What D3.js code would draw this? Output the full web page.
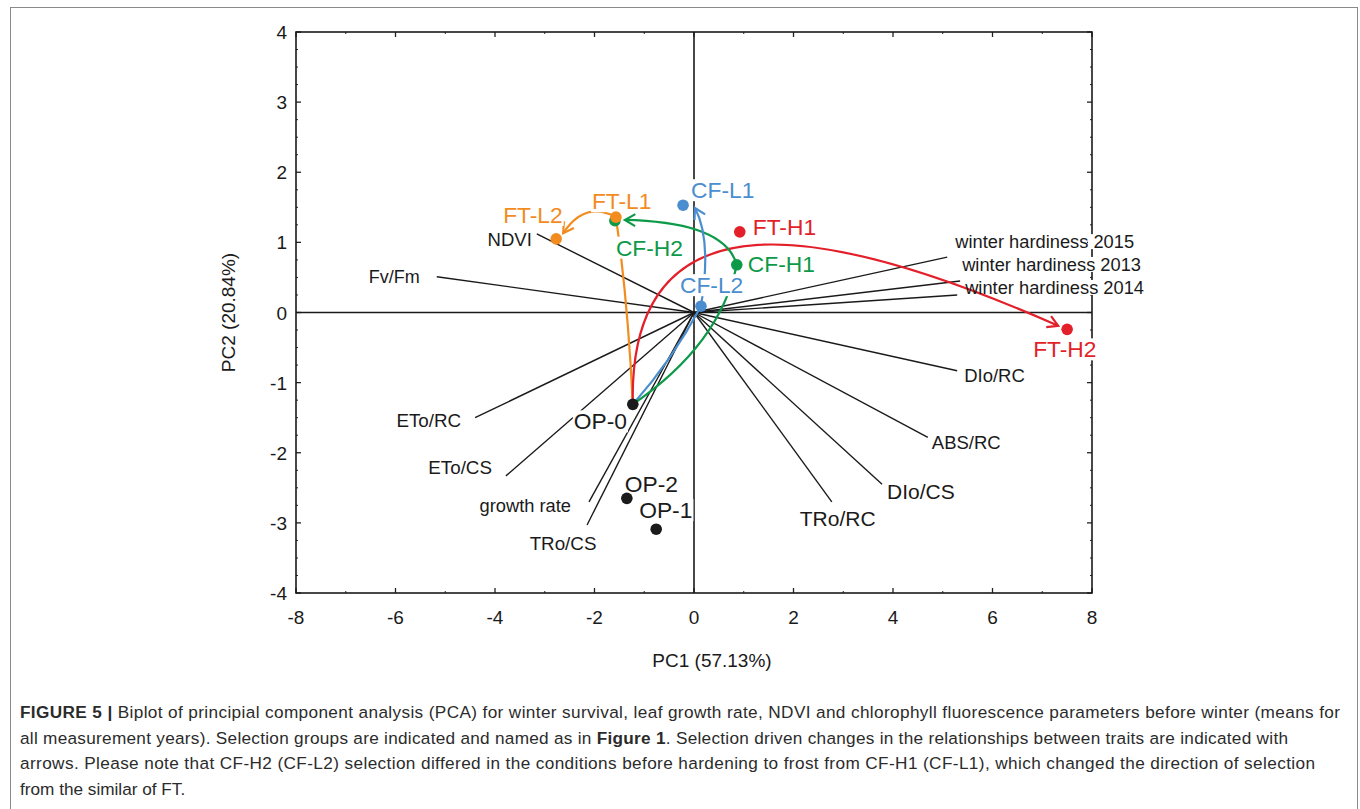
<!DOCTYPE html>
<html>
<head>
<meta charset="utf-8">
<script src="https://cdn.jsdelivr.net/npm/d3@7"></script>
<style>
  body { margin: 0; background: #fff; }
  svg text { font-family: "Liberation Sans", Arial, sans-serif; }
</style>
</head>
<body>
<script>
// loadings (trait vectors)
var traitNames = ['NDVI', 'Fv/Fm', 'winter hardiness 2015', 'winter hardiness 2013', 'winter hardiness 2014',
    'DIo/RC', 'ABS/RC', 'DIo/CS', 'TRo/RC', 'ETo/RC', 'ETo/CS', 'growth rate', 'TRo/CS'];
var traitPC1 = [-3.16, -5.17, 5.09, 5.35, 5.29, 5.29, 4.70, 3.78, 2.77, -4.40, -3.78, -2.11, -2.15];
var traitPC2 = [1.12, 0.51, 0.79, 0.45, 0.25, -0.83, -1.78, -2.45, -2.70, -1.50, -2.33, -2.70, -3.03];

// scores (selection groups)
var groupNames = ['CF-L1', 'CF-L2', 'CF-H1', 'CF-H2', 'OP-0', 'OP-1', 'OP-2', 'FT-L1', 'FT-L2', 'FT-H1', 'FT-H2'];
var groupPC1 = [-0.22, 0.14, 0.86, -1.59, -1.23, -0.76, -1.35, -1.57, -2.77, 0.92, 7.50];
var groupPC2 = [1.53, 0.09, 0.68, 1.31, -1.31, -3.09, -2.65, 1.36, 1.05, 1.15, -0.24];

// selection arrows: bezier points in PC units
var arrowRed = [[-1.23, -1.31], [-1.33, 1.82], [2.73, 1.25], [7.32, -0.19]];
var arrowOrangeA = [[-1.23, -1.31], [-1.33, 0.18], [-1.57, 1.36]];
var arrowOrangeB = [[-1.57, 1.36], [-2.19, 1.60], [-2.63, 1.13]];
var arrowGreenA = [[-1.23, -1.31], [0.52, -0.46], [0.86, 0.68]];
var arrowGreenB = [[0.86, 0.68], [0.62, 1.29], [-1.39, 1.32]];
var arrowBlueA = [[-1.23, -1.31], [-0.44, -0.68], [0.14, 0.09]];
var arrowBlueB = [[0.14, 0.09], [0.36, 1.03], [0.02, 1.49]];

var xTicks = [-8, -6, -4, -2, 0, 2, 4, 6, 8];
var yTicks = [-4, -3, -2, -1, 0, 1, 2, 3, 4];

var colors = {
    red: '#e31f2a',
    orange: '#f28c1f',
    green: '#0d9a48',
    blue: '#4a8ecf',
    black: '#1b1b1b'
};
var groupColor = {
    'OP-0': 'black', 'OP-1': 'black', 'OP-2': 'black',
    'FT-L1': 'orange', 'FT-L2': 'orange', 'FT-H1': 'red', 'FT-H2': 'red',
    'CF-L1': 'blue', 'CF-L2': 'blue', 'CF-H1': 'green', 'CF-H2': 'green'
};

// label placement (px offsets from the vector tip, anchor, font size)
var traitLabelPos = {
    'NDVI': [-5, 12, 'end', 18.5],
    'Fv/Fm': [-17, 6, 'end', 18],
    'winter hardiness 2015': [8, -9, 'start', 18.3],
    'winter hardiness 2013': [2, -10, 'start', 18.3],
    'winter hardiness 2014': [8, -1, 'start', 18.3],
    'DIo/RC': [7, 11, 'start', 18.5],
    'ABS/RC': [4, 12, 'start', 18.5],
    'DIo/CS': [5, 15, 'start', 21],
    'TRo/RC': [-32, 24, 'start', 21],
    'ETo/RC': [-14, 9, 'end', 18.8],
    'ETo/CS': [-14, -2, 'end', 18.8],
    'growth rate': [-18, 10, 'end', 18.3],
    'TRo/CS': [-24, 25, 'middle', 18.8]
};
var groupLabelPos = {
    'OP-0': [-59, 25], 'OP-1': [-17, -11], 'OP-2': [-2, -6],
    'FT-L1': [-24, -8], 'FT-L2': [-53, -16], 'FT-H1': [13, 3], 'FT-H2': [-34, 28],
    'CF-L1': [8, -7], 'CF-L2': [-21, -13], 'CF-H1': [11, 7], 'CF-H2': [1, 35]
};

var width = 1360, height = 809;
var plot = { left: 296, right: 1092, top: 32, bottom: 593 };

var svg = d3.select('body').append('svg')
    .attr('width', width)
    .attr('height', height);

// figure frame
svg.append('rect')
    .attr('x', 10.5).attr('y', 7.5)
    .attr('width', 1347).attr('height', 820)
    .attr('fill', 'none').attr('stroke', '#8a8a8a').attr('stroke-width', 1);

var x = d3.scaleLinear().domain([-8, 8]).range([plot.left, plot.right]);
var y = d3.scaleLinear().domain([-4, 4]).range([plot.bottom, plot.top]);

var g = svg.append('g');

// ticks
var minorX = d3.range(-7, 8, 2);
var minorY = d3.range(-4, 4.01, 0.25).filter(function(v) { return v % 1 != 0; });

minorY.forEach(function(v) {
    g.append('line').attr('x1', plot.left).attr('x2', plot.left + 2).attr('y1', y(v)).attr('y2', y(v)).attr('stroke', '#222');
    g.append('line').attr('x1', plot.right).attr('x2', plot.right - 2).attr('y1', y(v)).attr('y2', y(v)).attr('stroke', '#222');
});
minorX.forEach(function(v) {
    g.append('line').attr('x1', x(v)).attr('x2', x(v)).attr('y1', plot.top).attr('y2', plot.top + 2).attr('stroke', '#222');
    g.append('line').attr('x1', x(v)).attr('x2', x(v)).attr('y1', plot.bottom).attr('y2', plot.bottom - 2).attr('stroke', '#222');
});
yTicks.forEach(function(v) {
    g.append('line').attr('x1', plot.left).attr('x2', plot.left + 5).attr('y1', y(v)).attr('y2', y(v)).attr('stroke', '#222').attr('stroke-width', 1.3);
    g.append('line').attr('x1', plot.right).attr('x2', plot.right - 5).attr('y1', y(v)).attr('y2', y(v)).attr('stroke', '#222').attr('stroke-width', 1.3);
    g.append('text').attr('x', plot.left - 9).attr('y', y(v) + 7)
        .attr('text-anchor', 'end').attr('font-size', 19).attr('fill', '#1a1a1a')
        .text(v);
});
xTicks.forEach(function(v) {
    g.append('line').attr('x1', x(v)).attr('x2', x(v)).attr('y1', plot.bottom).attr('y2', plot.bottom - 5).attr('stroke', '#222').attr('stroke-width', 1.3);
    g.append('line').attr('x1', x(v)).attr('x2', x(v)).attr('y1', plot.top).attr('y2', plot.top + 5).attr('stroke', '#222').attr('stroke-width', 1.3);
    g.append('text').attr('x', x(v)).attr('y', plot.bottom + 31)
        .attr('text-anchor', 'middle').attr('font-size', 19).attr('fill', '#1a1a1a')
        .text(v);
});

// plot frame
g.append('rect')
    .attr('x', plot.left).attr('y', plot.top)
    .attr('width', plot.right - plot.left).attr('height', plot.bottom - plot.top)
    .attr('fill', 'none').attr('stroke', '#1a1a1a').attr('stroke-width', 1.6);

// axis titles
svg.append('text').attr('x', 712).attr('y', 667)
    .attr('text-anchor', 'middle').attr('font-size', 19).attr('fill', '#1a1a1a')
    .text('PC1 (57.13%)');
svg.append('text')
    .attr('transform', 'translate(235,' + y(0) + ') rotate(-90)')
    .attr('text-anchor', 'middle').attr('font-size', 19).attr('fill', '#1a1a1a')
    .text('PC2 (20.84%)');

// zero lines
g.append('line').attr('x1', plot.left).attr('x2', plot.right).attr('y1', y(0)).attr('y2', y(0))
    .attr('stroke', '#1a1a1a').attr('stroke-width', 1.6);
g.append('line').attr('x1', x(0)).attr('x2', x(0)).attr('y1', plot.top).attr('y2', plot.bottom)
    .attr('stroke', '#1a1a1a').attr('stroke-width', 1.6);

// trait vectors
var traits = traitNames.map(function(n, i) {
    return { name: n, pc1: traitPC1[i], pc2: traitPC2[i] };
});
g.selectAll('line.trait').data(traits).enter().append('line')
    .attr('class', 'trait')
    .attr('x1', x(0)).attr('y1', y(0))
    .attr('x2', function(d) { return x(d.pc1); })
    .attr('y2', function(d) { return y(d.pc2); })
    .attr('stroke', '#1a1a1a').attr('stroke-width', 1.4);

// selection arrows
function bezierPath(pts) {
    var p = pts.map(function(q) { return [x(q[0]), y(q[1])]; });
    var path = d3.path();
    path.moveTo(p[0][0], p[0][1]);
    if (p.length == 3) path.quadraticCurveTo(p[1][0], p[1][1], p[2][0], p[2][1]);
    else path.bezierCurveTo(p[1][0], p[1][1], p[2][0], p[2][1], p[3][0], p[3][1]);
    return path.toString();
}

function drawArrow(pts, colorKey, head) {
    g.append('path').attr('d', bezierPath(pts))
        .attr('fill', 'none').attr('stroke', colors[colorKey]).attr('stroke-width', 2.2);
    if (!head) return;
    var n = pts.length;
    var tip = [x(pts[n - 1][0]), y(pts[n - 1][1])];
    var prev = [x(pts[n - 2][0]), y(pts[n - 2][1])];
    var ang = Math.atan2(tip[1] - prev[1], tip[0] - prev[0]);
    var len = 12, spread = Math.PI / 6;
    var a1 = [tip[0] - len * Math.cos(ang - spread), tip[1] - len * Math.sin(ang - spread)];
    var a2 = [tip[0] - len * Math.cos(ang + spread), tip[1] - len * Math.sin(ang + spread)];
    g.append('path')
        .attr('d', 'M' + a1 + 'L' + tip + 'L' + a2)
        .attr('fill', 'none').attr('stroke', colors[colorKey]).attr('stroke-width', 2.2)
        .attr('stroke-linejoin', 'miter');
}

drawArrow(arrowOrangeA, 'orange', false);
drawArrow(arrowRed, 'red', true);
drawArrow(arrowBlueA, 'blue', false);
drawArrow(arrowGreenA, 'green', false);
drawArrow(arrowOrangeB, 'orange', true);
drawArrow(arrowGreenB, 'green', true);
drawArrow(arrowBlueB, 'blue', true);

// trait labels (the ones running over the frame get a white patch)
var traitBg = g.append('g');
g.append('g').selectAll('text').data(traits).enter().append('text')
    .attr('x', function(d) { return x(d.pc1) + traitLabelPos[d.name][0]; })
    .attr('y', function(d) { return y(d.pc2) + traitLabelPos[d.name][1]; })
    .attr('text-anchor', function(d) { return traitLabelPos[d.name][2]; })
    .attr('font-size', function(d) { return traitLabelPos[d.name][3]; })
    .attr('fill', '#1a1a1a')
    .text(function(d) { return d.name; })
    .each(function() {
        var t = this.getBBox();
        if (t.x + t.width > plot.right) {
            traitBg.append('rect')
                .attr('x', plot.right - 4).attr('y', t.y + 3)
                .attr('width', 8).attr('height', t.height - 6)
                .attr('fill', '#fff');
        }
    });

var groups = groupNames.map(function(n, i) {
    return { name: n, pc1: groupPC1[i], pc2: groupPC2[i] };
});

// group labels: white background under the points, text on top
var bgLayer = g.append('g');
var dotLayer = g.append('g');
var textLayer = g.append('g');

textLayer.selectAll('text').data(groups).enter().append('text')
    .attr('x', function(d) { return x(d.pc1) + groupLabelPos[d.name][0]; })
    .attr('y', function(d) { return y(d.pc2) + groupLabelPos[d.name][1]; })
    .attr('font-size', 22.8)
    .attr('fill', function(d) { return colors[groupColor[d.name]]; })
    .text(function(d) { return d.name; })
    .each(function() {
        var t = this.getBBox();
        bgLayer.append('rect')
            .attr('x', t.x - 1).attr('y', t.y + 2)
            .attr('width', t.width + 2).attr('height', t.height - 4)
            .attr('fill', '#fff');
    });

dotLayer.selectAll('circle').data(groups).enter().append('circle')
    .attr('cx', function(d) { return x(d.pc1); })
    .attr('cy', function(d) { return y(d.pc2); })
    .attr('r', 5.8)
    .attr('fill', function(d) { return colors[groupColor[d.name]]; });

// caption
var captionLines = [
    [['FIGURE 5 |', true], [' Biplot of principial component analysis (PCA) for winter survival, leaf growth rate, NDVI and chlorophyll fluorescence parameters before winter (means for', false]],
    [['all measurement years). Selection groups are indicated and named as in ', false], ['Figure 1', true], ['. Selection driven changes in the relationships between traits are indicated with', false]],
    [['arrows. Please note that CF-H2 (CF-L2) selection differed in the conditions before hardening to frost from CF-H1 (CF-L1), which changed the direction of selection', false]],
    [['from the similar of FT.', false]]
];
var captionWidths = [1320, 1268, 1295, null];
var cap = svg.append('g');
captionLines.forEach(function(parts, i) {
    var t = cap.append('text').attr('x', 20).attr('y', 718 + i * 25.5)
        .attr('font-size', 17.2).attr('fill', '#2b2b2b');
    parts.forEach(function(p) {
        t.append('tspan').attr('font-weight', p[1] ? 'bold' : 'normal').text(p[0]);
    });
    var w = t.node().getComputedTextLength();
    var target = captionWidths[i];
    if (target && Math.abs(w - target) > 2) {
        t.attr('textLength', target).attr('lengthAdjust', 'spacing');
    }
});
</script>
</body>
</html>
